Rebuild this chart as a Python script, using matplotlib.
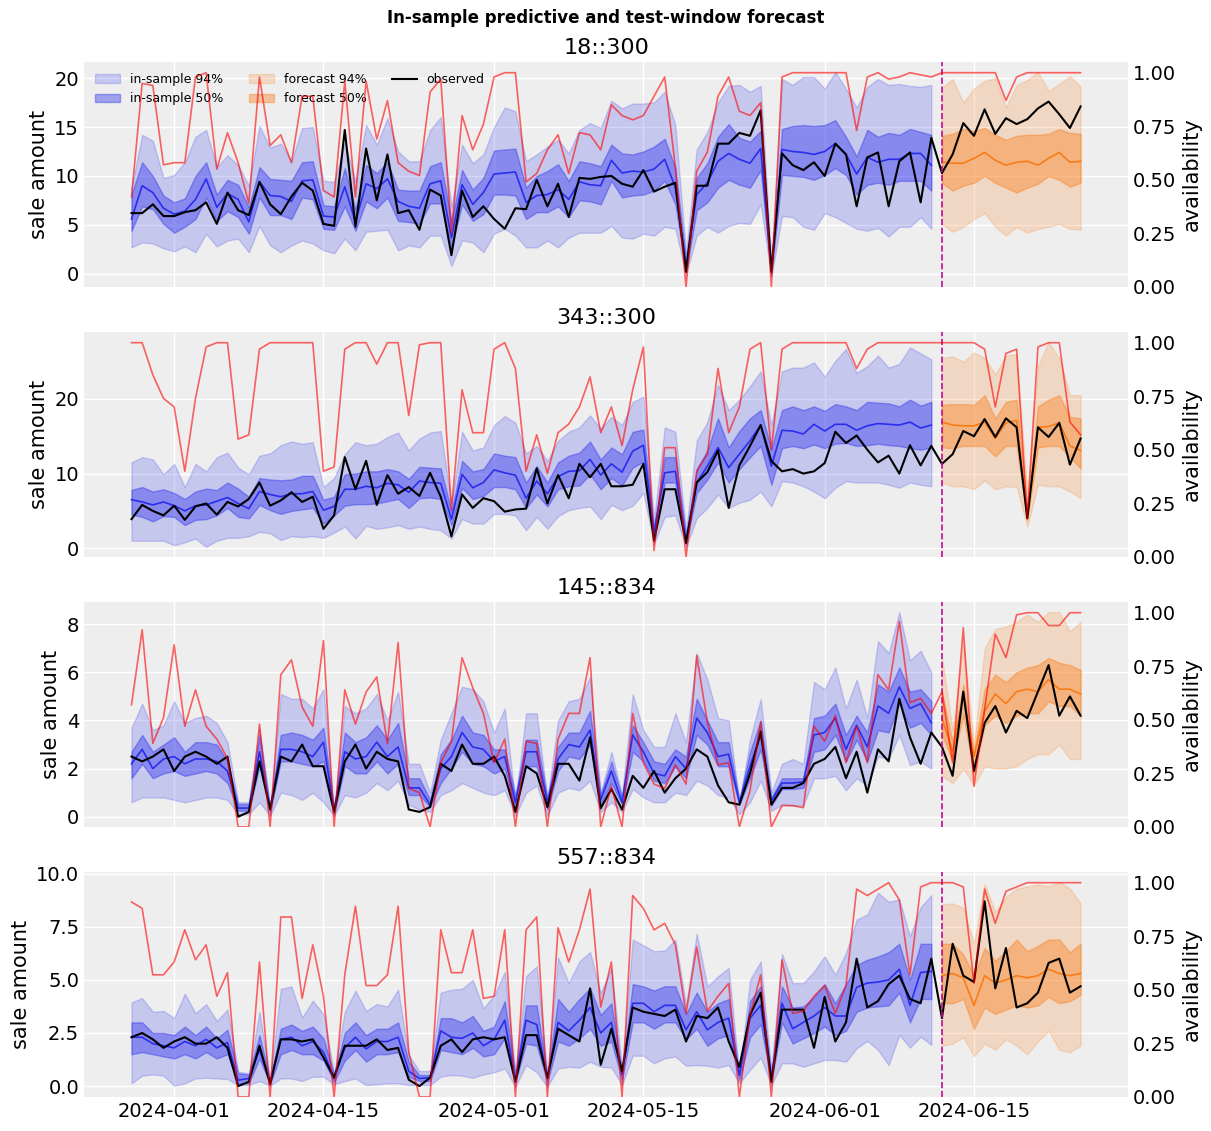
import pandas as pd
import matplotlib.pyplot as plt
import matplotlib.dates as mdates

# arviz-darkgrid look, set by hand
plt.rcParams.update({
    "axes.facecolor": "#eeeeee",
    "axes.edgecolor": "white",
    "axes.linewidth": 0,
    "axes.grid": True,
    "axes.axisbelow": True,
    "grid.color": "white",
    "grid.linewidth": 1.0,
    "xtick.major.size": 0,
    "ytick.major.size": 0,
    "xtick.labelsize": 14,
    "ytick.labelsize": 14,
    "axes.labelsize": 15,
    "axes.titlesize": 16,
})

C_BLUE = "#2a2eec"
C_ORANGE = "#fa7c17"
C_MAGENTA = "#c10c90"

# 90 daily points, first 76 in-sample, last 14 are the test window
dates = pd.date_range("2024-03-28", periods=90, freq="D")
n_fit = 76

# ---------------- 18::300 ----------------
obs_a = [6.2, 6.2, 7.1, 5.9, 5.9, 6.3, 6.5, 7.3, 5.1, 8.3, 6.5, 6.0, 9.4, 7.1, 6.1, 7.9, 9.3, 8.5, 5.1, 4.9,
         14.7, 4.8, 12.8, 7.5, 12.2, 6.2, 6.5, 4.5, 8.6, 8.0,
         1.9, 8.5, 5.8, 6.9, 5.6, 4.6, 6.7, 6.6, 9.6, 6.9, 9.2, 5.8, 9.8, 9.7, 9.9, 10.0, 9.2, 8.9, 10.6, 8.4,
         8.9, 9.3, 0.2, 9.0, 9.0, 13.3, 13.3, 14.4, 14.1, 16.7,
         0.2, 12.3, 11.1, 10.6, 11.4, 10.0, 13.3, 12.2, 6.9, 11.9, 12.4, 6.9, 11.5, 12.4, 7.3, 13.9, 10.3, 12.2,
         15.4, 14.1, 16.8, 14.3, 15.9, 15.3, 15.8, 16.9, 17.6, 16.3, 14.9, 17.1]
avail_a = [0.42, 0.95, 0.94, 0.57, 0.58, 0.58, 0.98, 1.0, 0.55, 0.72, 0.58, 0.39, 0.98, 0.66, 0.71, 0.58, 0.89, 0.89,
           0.45, 0.42, 0.96, 0.42, 0.96, 0.69, 0.87, 0.58, 0.54, 0.52, 0.91, 0.97,
           0.25, 0.80, 0.64, 0.76, 0.98, 1.0, 1.0, 0.49, 0.53, 0.64, 0.71, 0.53, 0.72, 0.71, 0.64, 0.85, 0.80, 0.78,
           0.80, 0.89, 0.98, 0.56, 0.0, 0.54, 0.63, 0.89, 0.98, 0.82, 0.80, 0.86,
           0.0, 0.98, 1.0, 1.0, 1.0, 1.0, 1.0, 1.0, 0.73, 0.98, 1.0, 0.97, 0.98, 1.0, 0.99, 0.98, 1.0, 1.0,
           1.0, 1.0, 1.0, 1.0, 0.87, 0.98, 1.0, 1.0, 1.0, 1.0, 1.0, 1.0]
mean_a = [5.6, 9.0, 8.3, 6.7, 6.1, 6.4, 7.6, 9.7, 6.8, 8.2, 7.6, 5.3, 9.4, 8.0, 7.9, 7.4, 9.5, 9.6, 5.9, 5.8,
          8.9, 5.3, 9.2, 8.7, 9.7, 7.4, 6.9, 6.7, 9.2, 9.5,
          3.7, 9.1, 7.1, 8.3, 10.2, 10.3, 10.4, 7.3, 8.0, 8.1, 8.6, 7.6, 9.4, 9.1, 9.0, 11.6, 10.3, 10.5, 10.4, 10.7,
          11.7, 8.8, 0.7, 8.1, 9.3, 11.5, 12.3, 11.7, 11.3, 12.8,
          0.2, 12.7, 12.5, 12.4, 12.2, 12.5, 13.3, 12.2, 10.2, 11.9, 11.4, 11.7, 11.7, 12.3, 12.3, 11.1,
          11.4, 11.3, 11.3, 11.8, 12.4, 11.6, 11.1, 11.4, 11.5, 11.1, 11.8, 12.4, 11.4, 11.5]
lo50_a = [4.4, 6.9, 6.6, 5.1, 4.2, 4.8, 5.6, 7.8, 5.4, 6.4, 5.8, 4.1, 7.8, 6.0, 6.0, 5.6, 7.8, 7.6, 4.6, 4.5,
          6.9, 4.4, 7.4, 6.7, 7.8, 5.4, 5.3, 5.1, 7.2, 7.2,
          2.6, 7.1, 5.4, 6.1, 8.1, 8.1, 8.0, 5.6, 6.3, 6.3, 6.9, 5.8, 7.5, 7.4, 7.1, 9.5, 7.8, 8.0, 8.1, 8.5,
          9.5, 7.1, 0.2, 6.5, 7.3, 8.8, 9.6, 9.1, 8.8, 10.6,
          -0.1, 10.1, 10.0, 9.9, 9.6, 10.1, 10.8, 10.1, 8.1, 9.1, 9.3, 9.1, 9.5, 9.5, 9.5, 8.5,
          9.3, 8.5, 9.0, 9.3, 10.0, 9.3, 8.8, 8.3, 8.8, 9.2, 10.0, 9.6, 8.9, 9.3]
hi50_a = [8.1, 11.4, 10.0, 8.0, 7.3, 7.7, 10.0, 11.4, 8.1, 9.6, 9.1, 6.8, 10.9, 9.7, 9.6, 9.5, 11.4, 11.5, 7.0, 6.9,
          10.8, 6.6, 11.1, 10.3, 11.4, 8.6, 8.5, 8.5, 11.0, 11.4,
          5.4, 10.6, 8.6, 9.8, 12.6, 12.7, 12.8, 8.8, 10.0, 10.5, 11.2, 9.5, 11.5, 11.3, 11.0, 13.2, 12.3, 12.2,
          12.5, 13.0, 13.8, 10.8, 1.4, 9.8, 11.3, 14.0, 15.3, 13.9, 13.5, 14.6,
          0.7, 14.8, 15.1, 15.2, 15.1, 15.2, 15.7, 14.0, 12.0, 14.7, 14.0, 14.4, 14.2, 14.8, 14.5, 14.2,
          14.1, 14.3, 14.8, 14.6, 14.9, 14.2, 13.7, 14.1, 14.2, 14.2, 14.3, 14.8, 14.4, 14.3]
lo94_a = [2.7, 3.2, 3.1, 2.6, 2.3, 2.8, 2.2, 4.1, 2.8, 3.4, 3.6, 2.2, 4.9, 2.9, 2.2, 2.9, 3.4, 3.1, 2.4, 2.1,
          3.6, 2.4, 4.3, 4.4, 4.5, 2.4, 2.9, 2.7, 3.9, 3.9,
          0.8, 3.4, 3.2, 2.2, 4.1, 4.6, 3.9, 2.7, 2.7, 3.4, 2.7, 3.7, 4.2, 4.2, 4.2, 4.9, 3.7, 3.6, 4.1, 3.9,
          4.8, 4.6, -0.1, 3.9, 4.8, 4.2, 4.9, 5.2, 5.1, 7.1,
          -0.3, 5.9, 5.8, 4.8, 4.5, 6.2, 5.8, 5.2, 4.6, 4.4, 4.7, 3.8, 4.8, 4.8, 5.8, 4.6,
          5.1, 4.3, 4.8, 5.6, 6.2, 4.8, 3.9, 4.8, 4.2, 4.6, 4.8, 5.1, 4.6, 4.5]
hi94_a = [8.8, 14.2, 13.6, 9.8, 10.1, 11.4, 14.0, 14.7, 10.9, 12.1, 11.1, 9.0, 15.1, 12.9, 13.3, 11.5, 14.9, 15.0,
          9.5, 9.4, 13.4, 9.5, 15.2, 13.2, 15.9, 12.5, 11.5, 11.5, 14.7, 16.0,
          6.8, 13.2, 11.3, 12.2, 15.0, 17.0, 16.6, 11.5, 12.2, 13.0, 13.7, 12.3, 14.7, 15.4, 14.9, 17.7, 16.9, 17.4,
          17.4, 17.5, 18.6, 15.2, 2.1, 12.7, 14.5, 17.5, 19.2, 19.3, 18.6, 19.2,
          1.0, 19.9, 19.3, 20.1, 20.1, 18.9, 20.6, 18.9, 17.0, 19.1, 19.9, 19.3, 19.4, 19.2, 19.1, 19.3,
          19.0, 19.9, 17.5, 18.9, 19.7, 20.0, 17.0, 19.3, 19.8, 20.6, 18.7, 19.4, 20.2, 19.1]

# ---------------- 343::300 ----------------
obs_b = [3.9, 5.8, 5.0, 4.4, 5.7, 3.8, 5.6, 6.0, 4.5, 6.2, 5.6, 6.6, 8.8, 5.7, 6.4, 7.5, 6.2, 6.9, 2.6, 4.4,
         12.2, 7.9, 11.7, 5.8, 9.8, 7.3, 8.2, 7.0, 10.1, 6.9,
         1.6, 7.2, 5.4, 6.7, 6.3, 4.9, 5.2, 5.3, 10.7, 6.0, 9.8, 6.7, 11.3, 9.5, 11.3, 8.3, 8.3, 8.5, 11.3, 1.0,
         7.9, 7.9, 0.7, 8.8, 10.2, 13.1, 5.4, 11.1, 13.7, 16.5,
         11.7, 10.3, 10.6, 10.0, 10.3, 11.4, 15.6, 14.1, 15.1, 13.2, 11.5, 12.4, 10.0, 13.8, 11.1, 13.7, 11.3, 12.6,
         15.7, 15.0, 17.3, 14.9, 17.4, 16.2, 4.0, 16.2, 14.9, 16.8, 11.2, 14.7]
avail_b = [1.0, 1.0, 0.85, 0.74, 0.70, 0.40, 0.74, 0.98, 1.0, 1.0, 0.55, 0.57, 0.97, 1.0, 1.0, 1.0, 1.0, 1.0,
           0.40, 0.42, 0.97, 1.0, 1.0, 0.90, 1.0, 1.0, 0.66, 0.99, 1.0, 1.0,
           0.22, 0.78, 0.58, 0.58, 0.97, 1.0, 0.88, 0.40, 0.57, 0.39, 0.58, 0.62, 0.70, 0.84, 0.58, 0.70, 0.52, 0.78,
           0.98, 0.03, 0.51, 0.51, 0.0, 0.40, 0.48, 0.88, 0.58, 0.70, 0.97, 1.0,
           0.50, 0.97, 1.0, 1.0, 1.0, 1.0, 1.0, 1.0, 0.88, 0.97, 1.0, 1.0, 1.0, 1.0, 1.0, 1.0, 1.0, 1.0,
           1.0, 1.0, 0.97, 0.70, 0.95, 0.97, 0.18, 0.98, 1.0, 1.0, 0.63, 0.57]
mean_b = [6.5, 6.2, 5.8, 6.2, 5.7, 5.0, 5.7, 5.8, 6.3, 6.8, 6.0, 5.3, 7.6, 7.2, 6.9, 7.3, 7.3, 7.6, 5.1, 5.6,
          7.9, 7.9, 8.3, 8.1, 8.7, 8.5, 7.5, 9.0, 8.8, 8.7,
          3.9, 9.9, 8.1, 8.8, 10.5, 10.1, 9.8, 6.7, 9.0, 7.3, 9.6, 10.3, 10.4, 11.9, 9.8, 11.3, 10.2, 13.0, 13.8, 2.2,
          10.1, 10.3, 1.0, 8.8, 11.0, 13.5, 10.8, 12.6, 14.4, 16.5,
          11.0, 15.8, 15.7, 15.3, 16.6, 15.7, 16.6, 16.6, 15.8, 16.4, 16.7, 16.6, 16.5, 16.9, 16.1, 16.5,
          16.9, 16.5, 16.4, 16.4, 16.9, 14.7, 16.8, 17.1, 4.2, 16.2, 16.3, 16.8, 13.7, 13.1]
lo50_b = [4.5, 4.2, 3.6, 4.3, 4.2, 3.1, 3.8, 3.9, 4.4, 5.4, 4.2, 4.0, 5.8, 5.1, 4.6, 5.0, 5.2, 5.4, 3.3, 4.4,
          5.7, 5.9, 5.9, 6.0, 6.3, 6.6, 5.4, 6.7, 6.8, 6.6,
          3.1, 8.1, 6.6, 7.0, 8.2, 8.2, 7.9, 5.4, 7.2, 5.6, 7.9, 8.3, 8.4, 9.9, 7.9, 9.4, 8.4, 10.8, 11.6, 1.5,
          8.8, 8.8, 0.6, 7.4, 9.2, 11.5, 8.8, 10.6, 12.2, 13.7,
          8.5, 13.4, 13.7, 13.4, 13.9, 13.4, 14.0, 14.1, 13.7, 13.8, 14.0, 13.8, 13.7, 13.4, 13.2, 13.5,
          13.5, 13.4, 13.7, 13.7, 13.7, 12.3, 13.7, 13.7, 3.8, 13.5, 13.7, 13.7, 12.2, 10.7]
hi50_b = [7.8, 8.2, 7.6, 7.9, 7.4, 6.6, 7.6, 8.0, 7.8, 8.8, 8.0, 6.9, 9.4, 9.2, 9.1, 9.2, 9.7, 9.7, 6.5, 6.9,
          9.9, 10.0, 10.3, 10.3, 10.6, 10.3, 9.3, 10.9, 10.8, 10.7,
          4.9, 11.7, 10.3, 10.6, 12.7, 12.4, 12.2, 8.8, 11.0, 8.8, 11.5, 12.4, 12.8, 14.3, 11.9, 13.5, 12.6, 15.6,
          15.9, 2.6, 12.2, 12.2, 1.7, 10.6, 13.1, 17.4, 13.5, 15.7, 17.4, 18.5,
          13.3, 18.5, 19.0, 18.5, 19.0, 18.4, 19.3, 19.0, 18.5, 19.6, 19.5, 19.4, 19.0, 19.9, 19.1, 19.6,
          19.2, 19.3, 19.3, 19.2, 20.5, 17.4, 19.6, 19.9, 5.4, 19.0, 19.9, 20.5, 17.6, 17.4]
lo94_b = [1.0, 1.0, 1.0, 1.0, 0.4, 0.8, 1.3, 0.2, 1.0, 1.4, 1.4, 1.6, 2.2, 2.0, 1.1, 1.6, 1.5, 1.6, 1.4, 2.1,
          2.9, 1.3, 3.0, 2.6, 2.8, 3.1, 2.6, 2.9, 2.6, 2.4,
          1.3, 3.9, 3.3, 3.3, 4.6, 4.6, 4.4, 2.4, 4.2, 2.6, 4.3, 5.1, 5.4, 5.6, 3.9, 5.8, 5.1, 5.7, 7.4, 0.6,
          4.2, 4.4, 0.2, 4.0, 5.4, 7.2, 5.4, 6.1, 6.5, 7.6,
          5.6, 9.0, 8.8, 8.3, 7.6, 6.7, 8.1, 9.0, 8.8, 8.8, 8.8, 8.5, 8.1, 8.8, 8.5, 8.3,
          8.8, 8.3, 8.3, 7.9, 9.1, 7.9, 8.3, 8.2, 2.9, 8.5, 8.3, 8.3, 7.6, 6.7]
hi94_b = [11.5, 12.2, 11.9, 9.9, 11.3, 8.2, 11.3, 10.3, 12.2, 12.8, 10.8, 9.9, 12.4, 12.7, 13.8, 14.3, 14.0, 14.2,
          8.2, 9.4, 12.6, 14.2, 13.8, 14.0, 14.9, 15.5, 13.1, 14.7, 15.5, 15.7,
          6.0, 15.6, 13.1, 13.5, 16.5, 17.7, 16.8, 12.7, 13.7, 11.7, 14.4, 15.6, 16.2, 17.8, 16.0, 17.6, 16.5, 19.6,
          20.3, 3.8, 16.2, 15.6, 2.4, 14.4, 16.9, 21.9, 18.5, 19.9, 21.7, 23.7,
          16.5, 23.7, 24.2, 24.2, 24.9, 23.0, 25.1, 26.7, 23.5, 24.4, 25.8, 24.2, 24.7, 26.9, 26.1, 25.3,
          25.5, 25.7, 25.0, 26.2, 25.5, 23.3, 25.8, 26.0, 7.4, 24.4, 27.6, 25.5, 20.5, 20.5]

# ---------------- 145::834 ----------------
obs_c = [2.5, 2.3, 2.5, 2.8, 1.9, 2.5, 2.7, 2.5, 2.2, 2.5, 0.0, 0.2, 2.3, 0.3, 2.5, 2.3, 3.0, 2.1, 2.1, 0.2,
         2.3, 3.0, 2.0, 2.7, 2.4, 2.3, 0.3, 0.2, 0.4, 2.2,
         1.9, 3.0, 2.2, 2.2, 2.5, 1.7, 0.2, 2.1, 1.8, 0.4, 2.2, 2.2, 1.5, 3.3, 0.35, 1.15, 0.3, 1.7, 1.2, 1.9,
         1.0, 1.6, 2.0, 2.8, 2.5, 1.3, 0.6, 0.5, 1.8, 3.55,
         0.5, 1.2, 1.2, 1.4, 2.2, 2.4, 2.9, 1.6, 2.7, 1.0, 2.8, 2.3, 4.9, 3.3, 2.2, 3.5, 2.9, 1.7,
         5.2, 1.9, 3.9, 4.6, 3.5, 4.4, 4.1, 5.2, 6.3, 4.2, 5.0, 4.2]
avail_c = [0.57, 0.92, 0.39, 0.51, 0.85, 0.47, 0.64, 0.47, 0.41, 0.32, 0.0, 0.0, 0.48, 0.0, 0.71, 0.78, 0.56, 0.47,
           0.87, 0.0, 0.64, 0.48, 0.63, 0.70, 0.39, 0.86, 0.18, 0.16, 0.0, 0.30,
           0.40, 0.79, 0.65, 0.53, 0.30, 0.41, 0.0, 0.40, 0.39, 0.0, 0.41, 0.53, 0.53, 0.79, 0.0, 0.19, 0.0, 0.53,
           0.30, 0.20, 0.18, 0.29, 0.20, 0.80, 0.49, 0.29, 0.30, 0.0, 0.17, 0.49,
           0.0, 0.10, 0.10, 0.09, 0.47, 0.40, 0.52, 0.30, 0.47, 0.30, 0.71, 0.64, 0.96, 0.58, 0.60, 0.53, 0.63, 0.30,
           0.93, 0.19, 0.55, 0.90, 0.79, 0.99, 1.0, 1.0, 0.94, 0.94, 1.0, 1.0]
mean_c = [2.2, 2.8, 2.0, 2.4, 2.5, 2.2, 2.4, 2.4, 2.3, 1.9, 0.36, 0.36, 2.7, 0.32, 2.8, 2.8, 2.7, 2.5, 3.1, 0.25,
          2.7, 2.4, 2.5, 3.1, 2.5, 2.9, 1.2, 1.2, 0.5, 2.0,
          2.5, 3.5, 2.9, 2.8, 2.3, 2.5, 0.6, 2.7, 2.7, 0.6, 2.4, 3.0, 2.9, 3.6, 0.7, 1.9, 0.6, 3.4, 2.7, 1.8,
          1.7, 2.5, 2.0, 4.1, 3.5, 2.5, 2.6, 0.6, 2.1, 3.4,
          0.66, 1.4, 1.4, 1.45, 3.4, 3.5, 4.1, 2.8, 3.8, 2.9, 4.6, 4.3, 5.4, 4.5, 4.7, 3.9,
          4.1, 2.7, 5.0, 2.5, 4.4, 5.1, 4.7, 5.2, 5.3, 5.2, 5.7, 5.3, 5.3, 5.1]
lo50_c = [1.6, 2.2, 1.6, 1.8, 1.9, 1.7, 1.8, 1.9, 1.8, 1.4, 0.25, 0.25, 2.1, 0.18, 2.3, 2.3, 2.2, 2.1, 2.3, 0.11,
          2.1, 1.8, 1.8, 2.3, 1.8, 2.2, 0.9, 0.9, 0.4, 1.4,
          2.0, 2.7, 2.2, 2.1, 1.8, 2.0, 0.3, 2.1, 2.1, 0.3, 1.9, 2.5, 2.4, 3.0, 0.5, 1.4, 0.5, 2.7, 2.3, 1.5,
          1.4, 2.1, 1.6, 3.4, 3.0, 2.1, 2.1, 0.5, 1.6, 2.8,
          0.46, 1.15, 1.15, 1.2, 2.7, 2.8, 3.4, 2.3, 3.2, 2.3, 3.6, 3.5, 4.7, 3.7, 3.9, 3.4,
          3.4, 2.3, 4.2, 1.8, 3.8, 4.2, 3.9, 4.2, 4.3, 4.3, 4.8, 4.6, 4.6, 4.2]
hi50_c = [2.7, 3.4, 2.7, 3.0, 3.3, 2.7, 3.1, 3.1, 3.0, 2.3, 0.53, 0.53, 3.4, 0.39, 3.4, 3.5, 3.4, 3.2, 3.7, 0.35,
          3.5, 3.1, 3.3, 3.8, 3.2, 3.9, 1.6, 1.6, 0.7, 2.6,
          3.2, 4.2, 3.5, 3.4, 2.8, 2.8, 0.9, 3.2, 3.2, 0.8, 2.9, 3.5, 3.5, 4.4, 0.9, 2.3, 0.8, 3.8, 3.1, 2.3,
          2.2, 2.8, 2.5, 4.9, 4.0, 3.1, 3.1, 0.7, 2.7, 4.0,
          0.8, 1.6, 1.6, 1.6, 4.1, 4.2, 4.7, 3.4, 4.2, 3.5, 5.5, 5.2, 6.2, 5.2, 5.3, 4.8,
          5.2, 3.1, 5.5, 2.7, 5.3, 5.9, 5.6, 6.0, 6.2, 6.3, 6.6, 6.4, 6.3, 6.1]
lo94_c = [0.6, 0.8, 0.8, 0.8, 0.7, 0.6, 0.7, 0.8, 0.8, 0.7, 0.1, 0.1, 0.6, 0.04, 1.0, 0.9, 0.7, 1.0, 0.6, 0.04,
          0.9, 0.8, 1.0, 1.4, 1.1, 1.5, 0.5, 0.3, 0.2, 0.9,
          1.1, 1.4, 1.2, 1.0, 0.9, 1.1, 0.04, 1.0, 1.3, 0.04, 1.0, 1.2, 1.1, 1.5, 0.2, 0.6, 0.2, 1.15, 0.8, 0.6,
          0.6, 1.0, 0.9, 1.5, 1.3, 0.9, 0.8, 0.1, 0.6, 1.5,
          0.25, 0.5, 0.46, 0.46, 1.6, 1.6, 1.7, 1.1, 1.6, 1.3, 2.5, 2.4, 3.4, 2.15, 2.3, 2.0,
          1.7, 1.4, 2.0, 1.3, 2.1, 2.0, 2.0, 2.1, 2.4, 2.6, 2.6, 3.0, 2.4, 2.4]
hi94_c = [3.7, 4.7, 3.6, 3.8, 4.8, 3.9, 4.1, 4.2, 3.9, 3.1, 0.6, 0.6, 3.7, 0.4, 5.1, 4.9, 4.9, 4.5, 5.3, 0.3,
          4.6, 4.3, 4.5, 5.1, 4.0, 5.2, 2.2, 2.2, 1.0, 3.2,
          4.3, 5.4, 5.3, 4.8, 3.5, 4.5, 0.6, 4.3, 4.3, 0.7, 4.0, 4.8, 4.9, 5.8, 1.0, 2.7, 0.9, 5.1, 3.6, 2.9,
          2.9, 4.3, 3.1, 6.8, 5.7, 4.1, 4.0, 0.6, 3.2, 4.9,
          1.0, 2.2, 2.4, 2.2, 5.6, 5.3, 6.2, 4.5, 5.7, 4.1, 7.3, 6.8, 8.5, 6.5, 6.9, 6.0,
          6.6, 3.6, 7.3, 3.0, 7.0, 7.8, 7.9, 8.1, 8.4, 8.1, 8.5, 8.5, 7.7, 8.1]

# ---------------- 557::834 ----------------
obs_d = [2.3, 2.5, 2.2, 1.8, 2.1, 2.3, 2.0, 2.0, 2.3, 1.8, 0.0, 0.2, 1.9, 0.1, 2.2, 2.2, 2.1, 2.2, 1.35, 0.4,
         1.9, 1.9, 1.9, 2.2, 1.7, 1.8, 0.3, 0.0, 0.4, 1.9,
         2.2, 1.6, 2.2, 2.3, 2.2, 2.3, 0.2, 2.4, 2.4, 0.4, 2.7, 2.4, 2.1, 4.6, 1.0, 2.7, 0.7, 3.7, 3.5, 3.4,
         3.3, 3.6, 2.1, 3.3, 3.2, 3.7, 2.1, 0.9, 3.35, 4.4,
         0.2, 3.6, 3.6, 3.6, 1.8, 4.2, 2.1, 3.0, 6.0, 3.7, 4.0, 4.8, 5.2, 4.1, 3.9, 6.0, 3.2, 6.7,
         5.2, 4.9, 8.7, 4.6, 6.5, 3.7, 3.9, 4.4, 5.8, 6.0, 4.4, 4.7]
avail_d = [0.91, 0.88, 0.57, 0.57, 0.63, 0.78, 0.64, 0.71, 0.47, 0.58, 0.0, 0.0, 0.63, 0.0, 0.84, 0.84, 0.46, 0.71,
           0.47, 0.0, 0.57, 0.89, 0.52, 0.52, 0.57, 0.89, 0.21, 0.0, 0.0, 0.78,
           0.58, 0.58, 0.78, 0.46, 0.47, 0.78, 0.0, 0.78, 0.84, 0.0, 0.79, 0.63, 0.78, 0.97, 0.42, 0.63, 0.0, 0.94,
           0.88, 0.78, 0.81, 0.71, 0.39, 0.70, 0.40, 0.47, 0.53, 0.0, 0.38, 0.57,
           0.0, 0.64, 0.39, 0.40, 0.47, 0.52, 0.39, 0.52, 0.97, 0.94, 0.97, 1.0, 0.92, 0.57, 0.98, 1.0, 1.0, 1.0,
           0.98, 0.53, 0.97, 0.81, 0.96, 0.98, 1.0, 1.0, 1.0, 1.0, 1.0, 1.0]
mean_d = [2.3, 2.3, 2.0, 1.9, 1.8, 2.1, 1.9, 2.2, 1.8, 2.05, 0.28, 0.36, 1.7, 0.17, 2.2, 2.3, 1.9, 2.1, 1.6, 0.39,
          1.8, 2.3, 1.75, 2.1, 2.1, 2.3, 0.7, 0.36, 0.4, 2.6,
          2.3, 2.25, 2.5, 1.9, 2.2, 3.1, 0.28, 3.1, 2.9, 0.36, 3.0, 2.6, 3.1, 3.7, 2.5, 3.0, 0.55, 3.9, 3.9, 3.5,
          3.8, 3.8, 2.65, 3.5, 2.65, 3.0, 3.2, 0.52, 3.2, 3.8,
          0.36, 3.9, 2.7, 3.0, 3.3, 3.7, 3.3, 3.3, 4.65, 4.85, 4.9, 5.0, 5.5, 3.8, 5.35, 5.4,
          5.2, 5.3, 5.1, 3.8, 5.2, 4.85, 5.0, 5.2, 5.1, 5.2, 5.5, 5.3, 5.2, 5.3]
lo50_d = [1.5, 1.6, 1.5, 1.4, 1.3, 1.5, 1.3, 1.6, 1.3, 1.5, 0.13, 0.13, 1.3, 0.08, 1.5, 1.7, 1.5, 1.5, 1.2, 0.2,
          1.2, 1.7, 1.15, 1.5, 1.5, 1.6, 0.44, 0.24, 0.24, 1.7,
          1.6, 1.5, 1.8, 1.4, 1.5, 2.25, 0.2, 2.0, 1.9, 0.17, 2.1, 1.9, 2.25, 2.7, 1.9, 2.1, 0.28, 3.0, 3.0, 2.7,
          3.0, 3.0, 2.2, 2.7, 1.9, 2.25, 2.4, 0.28, 2.3, 2.9,
          0.2, 3.0, 2.0, 2.25, 2.5, 2.8, 2.4, 2.6, 3.5, 3.7, 3.75, 3.8, 4.4, 3.0, 4.1, 4.1,
          3.9, 3.9, 4.1, 2.7, 3.7, 3.4, 3.6, 3.8, 3.7, 3.8, 4.2, 3.9, 4.0, 4.3]
hi50_d = [3.0, 3.0, 2.5, 2.5, 2.4, 2.8, 2.4, 2.8, 2.25, 2.65, 0.6, 0.55, 2.4, 0.28, 2.7, 2.9, 2.6, 2.8, 2.25, 0.55,
          2.5, 3.0, 2.4, 2.7, 2.7, 3.0, 1.15, 0.52, 0.52, 3.2,
          3.2, 3.0, 3.3, 2.6, 2.8, 4.0, 0.52, 3.8, 3.8, 0.49, 4.1, 3.5, 4.1, 4.6, 3.35, 3.9, 0.68, 4.8, 4.7, 4.5,
          4.7, 4.7, 3.4, 4.4, 3.5, 3.9, 4.1, 0.52, 4.0, 4.7,
          0.52, 4.7, 3.7, 3.75, 4.2, 4.8, 3.9, 4.8, 5.7, 5.95, 6.1, 6.3, 6.7, 5.0, 6.7, 6.7,
          6.7, 6.7, 6.2, 5.2, 6.5, 5.9, 6.35, 6.9, 6.35, 6.6, 6.9, 6.9, 6.3, 6.7]
lo94_d = [0.13, 0.49, 0.55, 0.49, 0.02, 0.13, 0.36, 0.39, 0.36, 0.33, 0.05, 0.05, 0.24, 0.02, 0.36, 0.36, 0.24,
          0.44, 0.44, 0.08, 0.24, 0.36, 0.05, 0.08, 0.13, 0.13, 0.05, 0.05, 0.05, 0.45,
          0.52, 0.49, 0.39, 0.55, 0.65, 0.83, -0.03, 0.99, 0.65, -0.03, 0.83, 0.91, 0.87, 1.15, 0.91, 0.87, 0.05,
          1.43, 1.43, 1.07, 1.31, 1.39, 0.96, 0.99, 0.96, 0.87, 0.99, 0.13, 0.76, 1.34,
          0.05, 1.07, 1.07, 0.91, 1.07, 1.23, 1.23, 1.15, 1.78, 2.13, 1.7, 0.99, 2.41, 1.81, 2.33, 1.94,
          1.9, 2.0, 2.3, 1.4, 2.0, 1.7, 2.2, 1.9, 1.5, 2.1, 2.6, 1.7, 1.6, 1.9]
hi94_d = [3.95, 4.14, 3.5, 3.54, 3.2, 4.35, 3.43, 3.86, 3.07, 3.6, 0.68, 0.6, 3.5, 0.36, 4.58, 4.69, 3.23, 4.02,
          3.39, 0.6, 3.5, 4.49, 3.54, 3.86, 3.75, 4.54, 1.46, 0.71, 0.71, 4.4,
          4.54, 4.58, 5.0, 3.67, 4.27, 5.37, 0.68, 5.17, 5.64, 0.6, 6.06, 4.85, 5.87, 6.31, 4.38, 5.56, 0.83, 6.9,
          6.63, 6.35, 6.38, 6.9, 3.83, 7.18, 4.69, 5.17, 5.56, 0.52, 5.0, 5.87,
          0.76, 6.22, 4.85, 4.85, 5.4, 6.11, 5.24, 6.27, 7.84, 8.08, 9.1, 8.68, 8.79, 7.06, 8.43, 8.99,
          8.55, 8.6, 8.4, 6.7, 9.5, 8.2, 8.9, 9.3, 9.4, 9.5, 9.4, 9.6, 9.3, 8.6]

titles = ["18::300", "343::300", "145::834", "557::834"]
left_ticks = [[0, 5, 10, 15, 20], [0, 10, 20], [0, 2, 4, 6, 8], [0, 2.5, 5, 7.5, 10]]
panels = [
    (obs_a, avail_a, mean_a, lo50_a, hi50_a, lo94_a, hi94_a),
    (obs_b, avail_b, mean_b, lo50_b, hi50_b, lo94_b, hi94_b),
    (obs_c, avail_c, mean_c, lo50_c, hi50_c, lo94_c, hi94_c),
    (obs_d, avail_d, mean_d, lo50_d, hi50_d, lo94_d, hi94_d),
]

fig, axes = plt.subplots(4, 1, sharex=True, figsize=(12.11, 11.31), dpi=100)
fig.subplots_adjust(left=0.0694, right=0.9315, top=0.9452, bottom=0.0301, hspace=0.2)

d_fit = dates[:n_fit]
d_fc = dates[n_fit:]

for k, ax in enumerate(axes):
    obs, avail, mean, lo50, hi50, lo94, hi94 = panels[k]

    ax.fill_between(d_fit, lo94[:n_fit], hi94[:n_fit], color=C_BLUE, alpha=0.2, label="in-sample 94%")
    ax.fill_between(d_fit, lo50[:n_fit], hi50[:n_fit], color=C_BLUE, alpha=0.4, label="in-sample 50%")
    ax.plot(d_fit, mean[:n_fit], color=C_BLUE, lw=1.2)

    ax.fill_between(d_fc, lo94[n_fit:], hi94[n_fit:], color=C_ORANGE, alpha=0.2, label="forecast 94%")
    ax.fill_between(d_fc, lo50[n_fit:], hi50[n_fit:], color=C_ORANGE, alpha=0.4, label="forecast 50%")
    ax.plot(d_fc, mean[n_fit:], color=C_ORANGE, lw=1.2)

    ax.plot(dates, obs, color="black", lw=1.5, label="observed")
    ax.axvline(dates[n_fit], color=C_MAGENTA, ls="--", lw=1.2)

    ax.set_title(titles[k])
    ax.set_ylabel("sale amount")
    ax.set_yticks(left_ticks[k])

    ax2 = ax.twinx()
    ax2.plot(dates, avail, color="red", alpha=0.6, lw=1.2)
    ax2.set_ylim(0, 1.05)
    ax2.set_yticks([0, 0.25, 0.5, 0.75, 1.0])
    ax2.grid(False)
    ax2.set_ylabel("availability")

    if k == 0:
        ax.legend(loc="upper left", ncol=3, fontsize=9, frameon=False)

axes[-1].xaxis.set_major_locator(mdates.DayLocator(bymonthday=[1, 15]))
axes[-1].xaxis.set_major_formatter(mdates.DateFormatter("%Y-%m-%d"))

fig.suptitle("In-sample predictive and test-window forecast", fontsize=12, fontweight="bold", y=0.992, va="top")

fig.savefig("out.png", dpi=100)
